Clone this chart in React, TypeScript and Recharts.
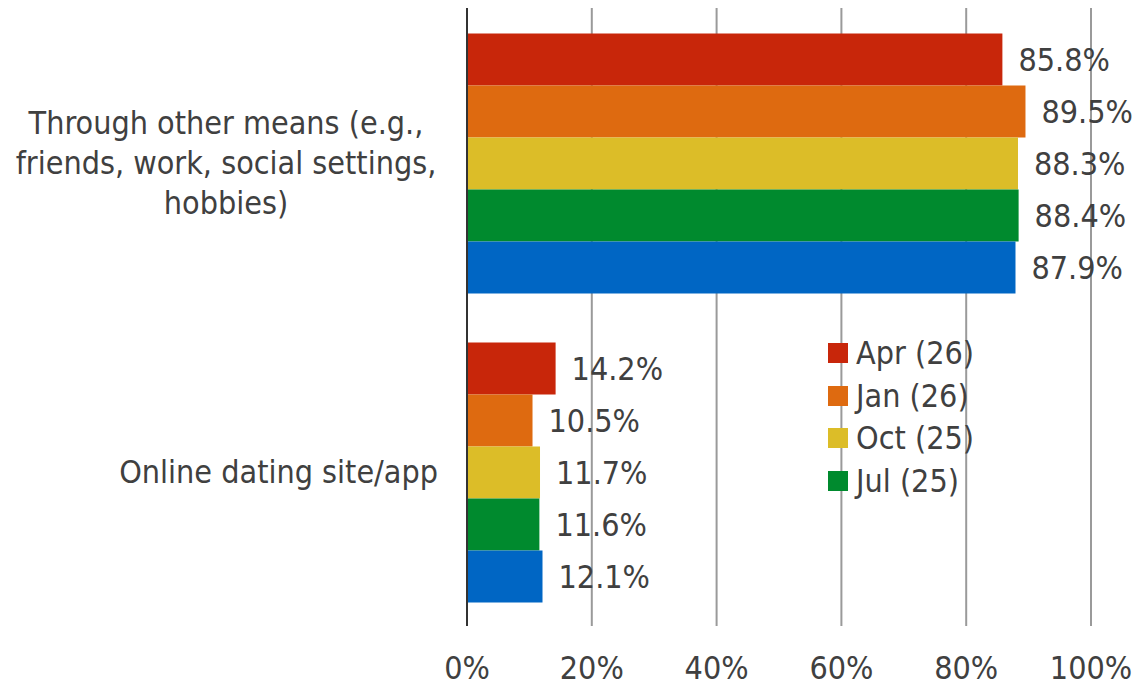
import { Bar, BarChart, CartesianGrid, LabelList, XAxis, YAxis } from "recharts";

const categories = [
  "Through other means (e.g., friends, work, social settings, hobbies)",
  "Online dating site/app",
];
const categoryLines = [
  ["Through other means (e.g.,", "friends, work, social settings,", "hobbies)"],
  ["Online dating site/app"],
];

const seriesNames = ["Apr (26)", "Jan (26)", "Oct (25)", "Jul (25)", "Apr (25)"];
const seriesColors = ["#C8260A", "#DE6A10", "#DCBD28", "#008A2E", "#0066C4"];
const apr26 = [85.8, 14.2];
const jan26 = [89.5, 10.5];
const oct25 = [88.3, 11.7];
const jul25 = [88.4, 11.6];
const apr25 = [87.9, 12.1];
const seriesValues = [apr26, jan26, oct25, jul25, apr25];
const legendCount = 4;

const xTicks = [0, 20, 40, 60, 80, 100];

const data = categories.map((c, i) => {
  const row: Record<string, string | number> = { category: c, idx: i };
  seriesNames.forEach((s, j) => {
    row[s] = seriesValues[j][i];
  });
  return row;
});

const FONT = "'DejaVu Sans Condensed', 'DejaVu Sans', sans-serif";
const TEXT = "#404040";
const FS = 32;

function CategoryTick({ x, y, payload }: { x?: number; y?: number; payload?: { value: string; index: number } }) {
  const i = categories.indexOf(payload?.value ?? "");
  const lines = categoryLines[i] ?? [payload?.value ?? ""];
  const lh = 40;
  const startY = (y ?? 0) - ((lines.length - 1) * lh) / 2;
  const multi = lines.length > 1;
  const tx = multi ? (x ?? 0) - 233 : (x ?? 0) - 21;
  return (
    <text x={tx} y={startY} textAnchor={multi ? "middle" : "end"} fontFamily={FONT} fontSize={FS} fill={TEXT} dominantBaseline="central">
      {lines.map((l, k) => (
        <tspan key={k} x={tx} y={startY + k * lh}>
          {l}
        </tspan>
      ))}
    </text>
  );
}

function PercentTick({ x, y, payload }: { x?: number; y?: number; payload?: { value: number } }) {
  return (
    <text x={x} y={(y ?? 0) + 45} textAnchor="middle" fontFamily={FONT} fontSize={FS} fill={TEXT}>
      {`${payload?.value}%`}
    </text>
  );
}

function ChartLegend() {
  return (
    <div style={{ position: "absolute", left: 828, top: 332, fontFamily: FONT, fontSize: FS, color: TEXT }}>
      {seriesNames.slice(0, legendCount).map((name, i) => (
        <div key={name} style={{ display: "flex", alignItems: "center", height: 42.5 }}>
          <span style={{ width: 20, height: 20, background: seriesColors[i], marginRight: 8, flexShrink: 0 }} />
          {name}
        </div>
      ))}
    </div>
  );
}

export default function App() {
  return (
    <div style={{ position: "absolute", left: 0, top: 0, width: 1140, height: 689, background: "#fff" }}>
      <BarChart
        width={1140}
        height={689}
        data={data}
        layout="vertical"
        margin={{ top: 8, right: 49, left: 0, bottom: 0 }}
        barCategoryGap="8.25%"
        barGap={0}
      >
        <CartesianGrid horizontal={false} stroke="#9a9a9a" strokeWidth={2} />
        <XAxis
          type="number"
          domain={[0, 100]}
          ticks={xTicks}
          axisLine={false}
          tickLine={false}
          height={63}
          tick={<PercentTick />}
          interval={0}
        />
        <YAxis
          type="category"
          dataKey="category"
          width={467}
          axisLine={{ stroke: "#333", strokeWidth: 2 }}
          tickLine={false}
          tick={<CategoryTick />}
          interval={0}
        />
        {seriesNames.map((s, j) => (
          <Bar key={s} dataKey={s} fill={seriesColors[j]} isAnimationActive={false}>
            <LabelList
              dataKey={s}
              position="right"
              offset={16}
              formatter={(v: number) => `${Number(v).toFixed(1)}%`}
              style={{ fontFamily: FONT, fontSize: FS, fill: TEXT }}
            />
          </Bar>
        ))}
      </BarChart>
      <ChartLegend />
    </div>
  );
}
